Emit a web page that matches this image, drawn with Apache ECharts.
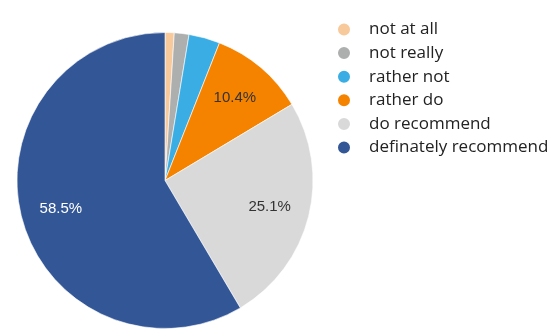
<!DOCTYPE html>
<html>
<head>
<meta charset="utf-8">
<script src="https://cdn.jsdelivr.net/npm/echarts@6/dist/echarts.min.js"></script>
<style>
  html, body { margin: 0; padding: 0; background: #fff; }
  #chart { width: 553px; height: 329px; }
</style>
</head>
<body>
<div id="chart"></div>
<script>
const categories = ['not at all', 'not really', 'rather not', 'rather do', 'do recommend', 'definately recommend']
const shares = [1.0, 1.6, 3.4, 10.4, 25.1, 58.5]
const colors = ['#f7c99b', '#adafaf', '#3aade4', '#f58300', '#d9d9d9', '#335696']
const labelColors = ['#333', '#333', '#333', '#333', '#333', '#fff']

const pieData = categories.map((name, i) => ({
  name: name,
  value: shares[i],
  itemStyle: { color: colors[i] }
}))

// second ring only used to push the % labels out to about 3/4 of the radius
const labelData = categories.map((name, i) => ({
  name: name,
  value: shares[i],
  label: { show: shares[i] > 5, color: labelColors[i] }
}))

const myChart = echarts.init(document.getElementById('chart'))

const option = {
  animation: false,
  legend: {
    orient: 'vertical',
    left: 331,
    top: 16,
    icon: 'circle',
    itemWidth: 14,
    itemHeight: 14,
    itemGap: 6.6,
    data: categories,
    textStyle: {
      fontFamily: 'Open Sans',
      fontSize: 17,
      color: '#222',
      padding: [0, 0, 0, 13]
    }
  },
  series: [
    {
      type: 'pie',
      center: [165, 180.5],
      radius: [0, 148],
      startAngle: 90,
      clockwise: true,
      silent: true,
      label: { show: false },
      labelLine: { show: false },
      itemStyle: { borderColor: '#fff', borderWidth: 0.6 },
      data: pieData
    },
    {
      type: 'pie',
      center: [165, 180.5],
      radius: [62, 148],
      startAngle: 90,
      clockwise: true,
      silent: true,
      legendHoverLink: false,
      itemStyle: { color: 'rgba(0,0,0,0)' },
      label: {
        position: 'inside',
        fontFamily: 'Liberation Sans',
        fontSize: 15,
        formatter: (p) => p.value.toFixed(1) + '%'
      },
      labelLine: { show: false },
      data: labelData
    }
  ]
}

myChart.setOption(option)
</script>
</body>
</html>
